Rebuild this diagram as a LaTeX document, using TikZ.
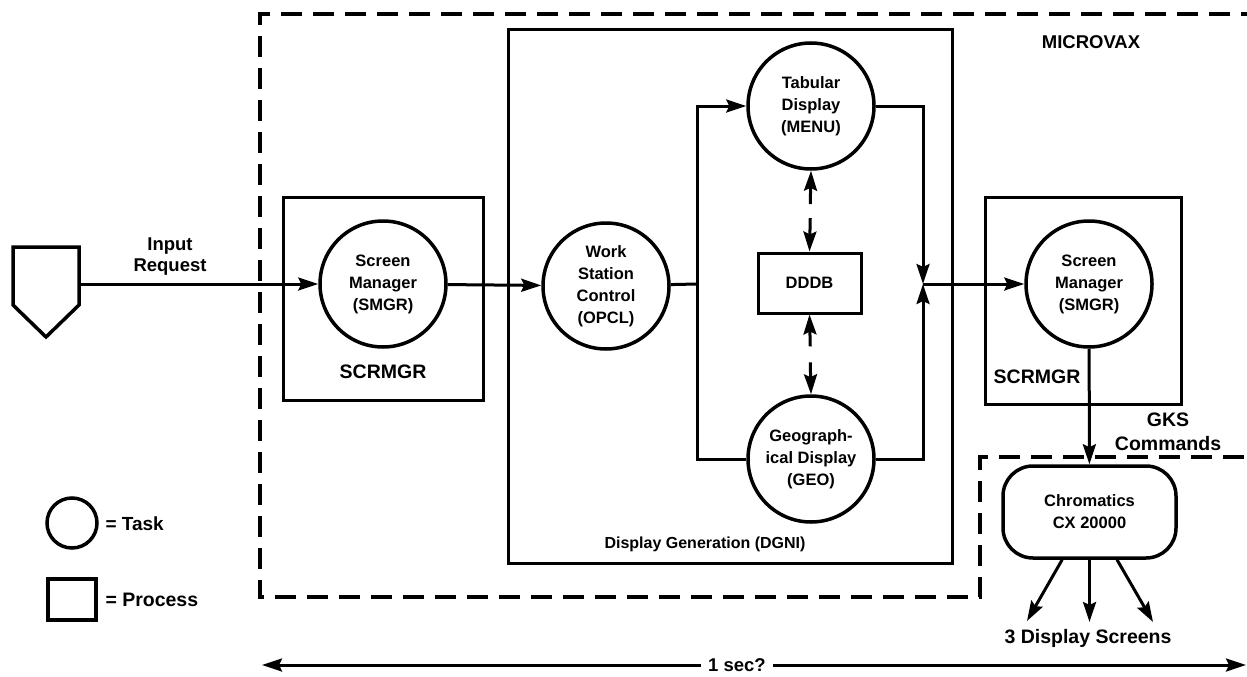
\documentclass[tikz,border=0pt]{standalone}
\usepackage{fontspec}
\setmainfont{Liberation Sans}
\usetikzlibrary{arrows.meta,calc}
\begin{document}
\begin{tikzpicture}[x=1pt,y=-1pt,
  line width=3pt,
  font=\bfseries,
  tip/.style={-{Stealth[length=20pt,width=13pt,inset=3pt]}},
  conn/.style={line width=3pt,tip},
  both/.style={line width=3pt,{Stealth[length=20pt,width=13pt,inset=3pt]}-{Stealth[length=20pt,width=13pt,inset=3pt]}},
  task/.style={circle,draw,line width=3.5pt,minimum size=126pt,inner sep=0pt,align=center,font=\bfseries\fontsize{16.5}{22}\selectfont},
  proc/.style={draw,line width=3pt,inner sep=0pt},
  lbl/.style={inner sep=0pt,align=center},
  border/.style={line width=4.5pt,dash pattern=on 21pt off 11pt},
]
\useasboundingbox (0,0) rectangle (1247,677);

% MICROVAX boundary
\draw[border] (1262,14) -- (260,14) -- (260,597) -- (980,597) -- (980,457) -- (1262,457);
\node[lbl,font=\bfseries\fontsize{18.5}{24}\selectfont] (microvax) at (1091,42) {MICROVAX};

% terminal
\draw[line width=3.5pt,line join=miter] (13,247) -- (79,247) -- (79,305) -- (46,337) -- (13,305) -- cycle;
\coordinate (termout) at (79,284);
\node[lbl,font=\bfseries\fontsize{18.5}{21}\selectfont] (inreq) at (170,257) {Input\\Request};

% left SCRMGR process
\node[proc,minimum width=200pt,minimum height=203pt] (boxL) at (383,298.5) {};
\node[lbl,font=\bfseries\fontsize{19.5}{24}\selectfont] (boxLlbl) at (383,372) {SCRMGR};
\node[task] (smgrL) at (383,284) {Screen\\Manager\\(SMGR)};

% DGNI process
\node[proc,minimum width=444pt,minimum height=533pt] (dgni) at (730,296.5) {};
\node[lbl,font=\bfseries\fontsize{16}{20}\selectfont] (dgnilbl) at (705,544) {Display Generation (DGNI)};
\node[task] (opcl) at (606,286) {Work\\Station\\Control\\(OPCL)};
\node[task] (menu) at (811,106) {Tabular\\Display\\(MENU)};
\node[task] (geo) at (811,459) {Geograph-\\ical Display\\(GEO)};
\node[proc,minimum width=103pt,minimum height=60pt,font=\bfseries\fontsize{16.5}{22}\selectfont] (dddb) at (809.5,283) {DDDB};

% right SCRMGR process
\node[proc,minimum width=196pt,minimum height=207pt] (boxR) at (1083,300.5) {};
\node[lbl,font=\bfseries\fontsize{19.5}{24}\selectfont] (boxRlbl) at (1037,377) {SCRMGR};
\node[task] (smgrR) at (1089,284) {Screen\\Manager\\(SMGR)};

% Chromatics
\node[draw,line width=3.5pt,rounded corners=30pt,minimum width=173pt,minimum height=92pt,align=center,font=\bfseries\fontsize{16.5}{22}\selectfont] (chrom) at (1089.5,512) {Chromatics\\CX 20000};
\node[lbl,font=\bfseries\fontsize{19.5}{24}\selectfont] (gks) at (1168,432) {GKS\\Commands};
\coordinate (s1) at (1027,621);
\coordinate (s2) at (1089.5,622);
\coordinate (s3) at (1153,622);
\node[lbl,font=\bfseries\fontsize{19.5}{24}\selectfont] (screens) at (1088,638) {3 Display Screens};

% junctions
\coordinate (jl) at (697,284);
\coordinate (jr) at (923,284);

% connectors
\draw[conn] (termout) -- (smgrL);
\draw[conn] (smgrL) -- (opcl);
\draw (opcl) -- (jl);
\draw[conn] (geo) -| (jl) |- (menu);
\draw[conn] (menu) -| (jr);
\draw[conn] (geo) -| (jr);
\draw[conn] (jr) -- (smgrR);
\draw[conn] (smgrR) -- (chrom);
\draw[conn] (chrom) -- (s1);
\draw[conn] (chrom) -- (s2);
\draw[conn] (chrom) -- (s3);

% broken double arrows to DDDB
\draw[conn] ($(menu.south)!0.5!(dddb.north)+(0,-7)$) -- (menu.south);
\draw[conn] ($(menu.south)!0.5!(dddb.north)+(0,7)$) -- (dddb.north);
\draw[conn] ($(dddb.south)!0.5!(geo.north)+(0,-8)$) -- (dddb.south);
\draw[conn] ($(dddb.south)!0.5!(geo.north)+(0,8)$) -- (geo.north);

% legend
\node[circle,draw,line width=3.5pt,minimum size=50pt,inner sep=0pt] (lgc) at (72,523) {};
\node[lbl,anchor=west,font=\bfseries\fontsize{19}{24}\selectfont] (lgct) at (104,524) {= Task};
\node[proc,line width=3.5pt,minimum width=48pt,minimum height=41pt] (lgp) at (72,599.5) {};
\node[lbl,anchor=west,font=\bfseries\fontsize{19.5}{24}\selectfont] (lgpt) at (104,600) {= Process};

% time axis
\coordinate (secL) at (262,665);
\coordinate (secR) at (1246,665);
\draw[both] (secL) -- (secR);
\node[fill=white,inner xsep=7pt,inner ysep=2pt,font=\bfseries\fontsize{18.5}{24}\selectfont] (sec) at (737,665) {1 sec?};
\end{tikzpicture}
\end{document}
